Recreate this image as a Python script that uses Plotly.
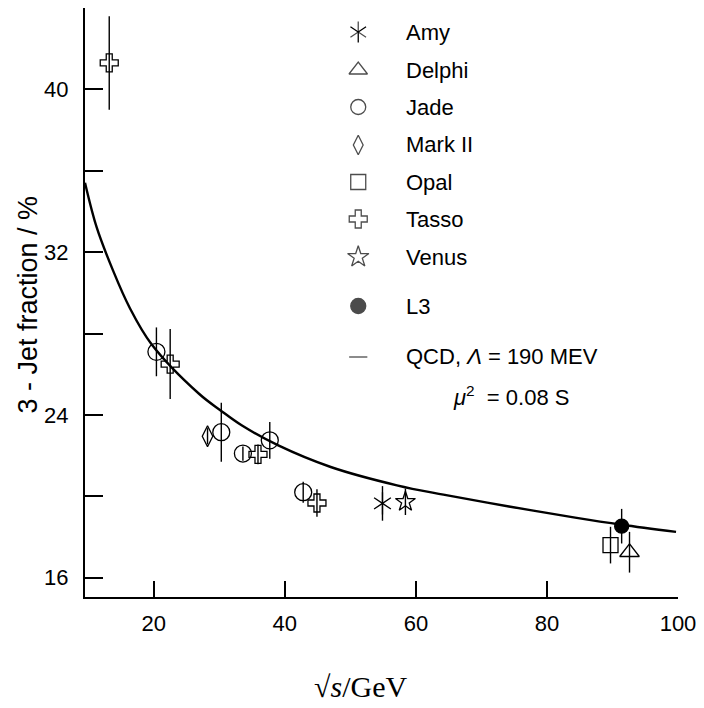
import plotly.graph_objects as go

# ---- data ----
amy_x = [54.9]; amy_y = [19.65]; amy_err = [0.85]
delphi_x = [92.6]; delphi_y = [17.25]; delphi_err = [1.0]
jade_x = [20.4, 30.3, 33.6, 37.7, 42.8]
jade_y = [27.1, 23.15, 22.1, 22.75, 20.2]
jade_err = [1.2, 1.45, 0.35, 0.9, 0.52]
mark2_x = [28.2]; mark2_y = [22.95]; mark2_err = [0.4]
opal_x = [89.7]; opal_y = [17.6]; opal_err = [0.9]
tasso_x = [13.2, 22.5, 35.9, 44.9]
tasso_y = [41.3, 26.5, 22.06, 19.67]
tasso_err = [2.3, 1.72, 0.49, 0.68]
venus_x = [58.4]; venus_y = [19.73]; venus_err = [0.65]
l3_x = [91.4]; l3_y = [18.53]; l3_err = [0.85]

qcd_x = [9.5, 11.3, 13.8, 16.3, 19.6, 26.9, 30.2, 33.4, 39.0, 47.0, 57.1, 64.2, 74.2, 84.3, 91.4, 99.7]
qcd_y = [35.41, 33.2, 31.08, 29.28, 27.5, 25.04, 24.22, 23.49, 22.5, 21.44, 20.54, 20.08, 19.5, 18.95, 18.6, 18.25]

y_ticks = [16, 24, 32, 40]
y_minor_ticks = [20, 28, 36, 44]
x_ticks = [20, 40, 60, 80, 100]
x_ticktext = ["20", "40", "60", "80", "100"]

legend_names = ["Amy", "Delphi", "Jade", "Mark II", "Opal", "Tasso", "Venus", "L3",
                "QCD, <i>Λ</i> = 190 MEV"]

# ---- layout geometry (pixels) ----
W, H = 704, 708
L, R, T, B = 85, 20, 8, 111
PW, PH = W - L - R, H - T - B

def px(xp):
    return (xp - L) / PW

def py(yp):
    return (H - B - yp) / PH

fig = go.Figure()

def err(e):
    return dict(type="data", array=e, visible=True, color="black", thickness=1.4, width=0)

fig.add_trace(go.Scatter(x=qcd_x, y=qcd_y, mode="lines", line=dict(color="black", width=2.4, shape="spline"),
                         showlegend=False, hoverinfo="skip"))

def pts(x, y, e, symbol, size, lw=1.3):
    fig.add_trace(go.Scatter(
        x=x, y=y, mode="markers", error_y=err(e), showlegend=False,
        marker=dict(symbol=symbol, size=size, color="black",
                    line=dict(color="black", width=lw))))

pts(jade_x, jade_y, jade_err, "circle-open", 17)
pts(tasso_x, tasso_y, tasso_err, "cross-open", 15)
pts(mark2_x, mark2_y, mark2_err, "diamond-tall-open", 15)
pts(amy_x, amy_y, amy_err, "y-up-open", 14)
fig.add_trace(go.Scatter(x=amy_x, y=amy_y, mode="markers", showlegend=False,
                         marker=dict(symbol="y-down-open", size=14, color="black", line=dict(color="black", width=1.3))))
pts(venus_x, venus_y, venus_err, "star-open", 15)
pts(opal_x, opal_y, opal_err, "square-open", 15)
pts(delphi_x, delphi_y, delphi_err, "triangle-up-open", 17)
pts(l3_x, l3_y, l3_err, "circle", 14)

# ---- hand-made legend ----
row_y = [32, 70, 107, 145, 182, 219, 257, 306, 357]
leg_symbols = ["y-up-open", "triangle-up-open", "circle-open", "diamond-tall-open", "square-open",
               "cross-open", "star-open", "circle", "line-ew-open"]
leg_sizes = [13, 16, 15, 14, 15, 15, 16, 15, 13]
sym_x = 361
text_x = 407
fig.add_trace(go.Scatter(
    x=[px(sym_x)] * len(row_y), y=[py(v) for v in row_y], xaxis="x2", yaxis="y2",
    mode="markers", showlegend=False, hoverinfo="skip",
    marker=dict(symbol=leg_symbols, size=leg_sizes, color="black", line=dict(color="black", width=1.3))))
fig.add_trace(go.Scatter(
    x=[px(sym_x)], y=[py(row_y[0])], xaxis="x2", yaxis="y2",
    mode="markers", showlegend=False, hoverinfo="skip",
    marker=dict(symbol="y-down-open", size=13, color="black", line=dict(color="black", width=1.3))))

FONT = "Liberation Sans, Arial, sans-serif"
for name, yv in zip(legend_names, row_y):
    fig.add_annotation(x=px(text_x), y=py(yv), xref="paper", yref="paper", text=name,
                       showarrow=False, xanchor="left", yanchor="middle",
                       font=dict(family=FONT, size=22, color="black"))
fig.add_annotation(x=px(455), y=py(396), xref="paper", yref="paper",
                   text="<i>μ</i><sup>2</sup>  = 0.08 S", showarrow=False, xanchor="left",
                   yanchor="middle", font=dict(family=FONT, size=22, color="black"))

# axis titles
fig.add_annotation(x=px(27), y=py(305), xref="paper", yref="paper", text="3 - Jet fraction / %",
                   textangle=-90, showarrow=False, xanchor="center", yanchor="middle",
                   font=dict(family=FONT, size=27, color="black"))
fig.add_annotation(x=px(363), y=py(686), xref="paper", yref="paper", text="√<i>s</i>/GeV",
                   showarrow=False, xanchor="center", yanchor="middle",
                   font=dict(family="Liberation Serif, Times New Roman, serif", size=30, color="black"))

fig.update_layout(
    width=W, height=H, margin=dict(l=L, r=R, t=T, b=B),
    paper_bgcolor="white", plot_bgcolor="white",
    font=dict(family=FONT, size=22, color="black"),
    xaxis=dict(range=[9.5, 100], tickvals=x_ticks, ticktext=x_ticktext, ticks="inside",
               ticklen=16, tickwidth=1.5, tickcolor="black", showline=True, linecolor="black",
               linewidth=2, showgrid=False, zeroline=False, ticklabelstandoff=6),
    yaxis=dict(range=[15.05, 44], tickvals=y_ticks, ticks="inside",
               ticklen=18, tickwidth=1.5, tickcolor="black", showline=True, linecolor="black",
               linewidth=2, showgrid=False, zeroline=False, ticklabelstandoff=10,
               minor=dict(tickvals=y_minor_ticks, ticks="inside", ticklen=18, tickwidth=1.5,
                          tickcolor="black", showgrid=False)),
    xaxis2=dict(overlaying="x", range=[0, 1], visible=False),
    yaxis2=dict(overlaying="y", range=[0, 1], visible=False),
)

fig.write_html("out.html")
